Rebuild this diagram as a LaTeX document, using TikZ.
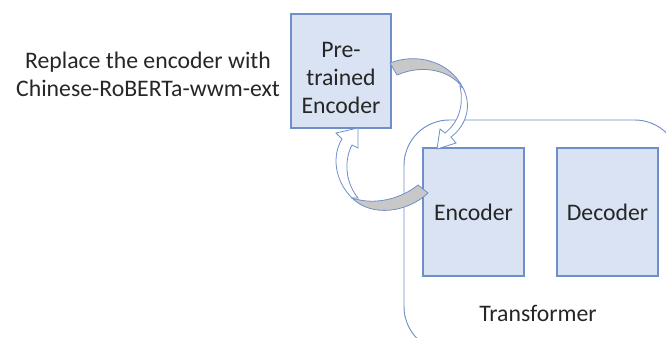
\documentclass[tikz,border=0pt]{standalone}
\usepackage{fontspec}
\setmainfont{Carlito}
\usetikzlibrary{positioning}
\definecolor{boxfill}{HTML}{DAE3F3}
\definecolor{boxline}{HTML}{6F8FC9}
\definecolor{bandgray}{HTML}{C8C8C8}
\definecolor{txt}{HTML}{262626}
\begin{document}
\begin{tikzpicture}[x=0.75pt,y=-0.75pt,
  font=\fontsize{17.8}{21}\selectfont, text=txt,
  block/.style={draw=boxline, fill=boxfill, line width=0.8pt, align=center, inner sep=0pt},
  frame/.style={draw=boxline, line width=0.7pt, rounded corners=34pt},
  band/.style={draw=boxline, line width=0.6pt, fill=bandgray},
  back/.style={draw=boxline, line width=0.6pt, fill=white}]
  \useasboundingbox (0,0) rectangle (666,338);
  \node[frame, minimum width=207pt, minimum height=174pt] (trans) at (542,236) {};
  \node (translabel) at (538,313) {Transformer};
  \node[block, minimum width=75pt, minimum height=85.5pt] (pre) at (341,71) {};
  \node[align=center] (pretext) at (341,78) {Pre-\\trained\\Encoder};
  \node[block, minimum width=75.75pt, minimum height=96pt] (enc) at (473.5,212) {Encoder};
  \node[block, minimum width=75.75pt, minimum height=96pt] (dec) at (607.5,212) {Decoder};
  \node[align=center] (note) at (148,74) {Replace the encoder with\\Chinese-RoBERTa-wwm-ext};
  % pre-trained encoder swapped in
  \draw[back] (463,88) .. controls (472,105) and (467,125) .. (451,137) -- (456,143) -- (437,149)
    -- (440,129) -- (445,133) .. controls (459,122) and (464,105) .. (460,86) -- cycle;
  \draw[band] (390,63) .. controls (415,53) and (449,60) .. (463,88)
    .. controls (452,72) and (425,63) .. (397,75) -- cycle;
  % old encoder taken out
  \draw[back] (352,198) .. controls (334,180) and (332,155) .. (342,139) -- (336,133) -- (358,128)
    -- (358,148) -- (352,145) .. controls (344,160) and (345,182) .. (358,198) -- cycle;
  \draw[band] (418,185) -- (428,193) .. controls (408,212) and (372,218) .. (352,198)
    .. controls (376,206) and (402,198) .. (418,185) -- cycle;
\end{tikzpicture}
\end{document}
